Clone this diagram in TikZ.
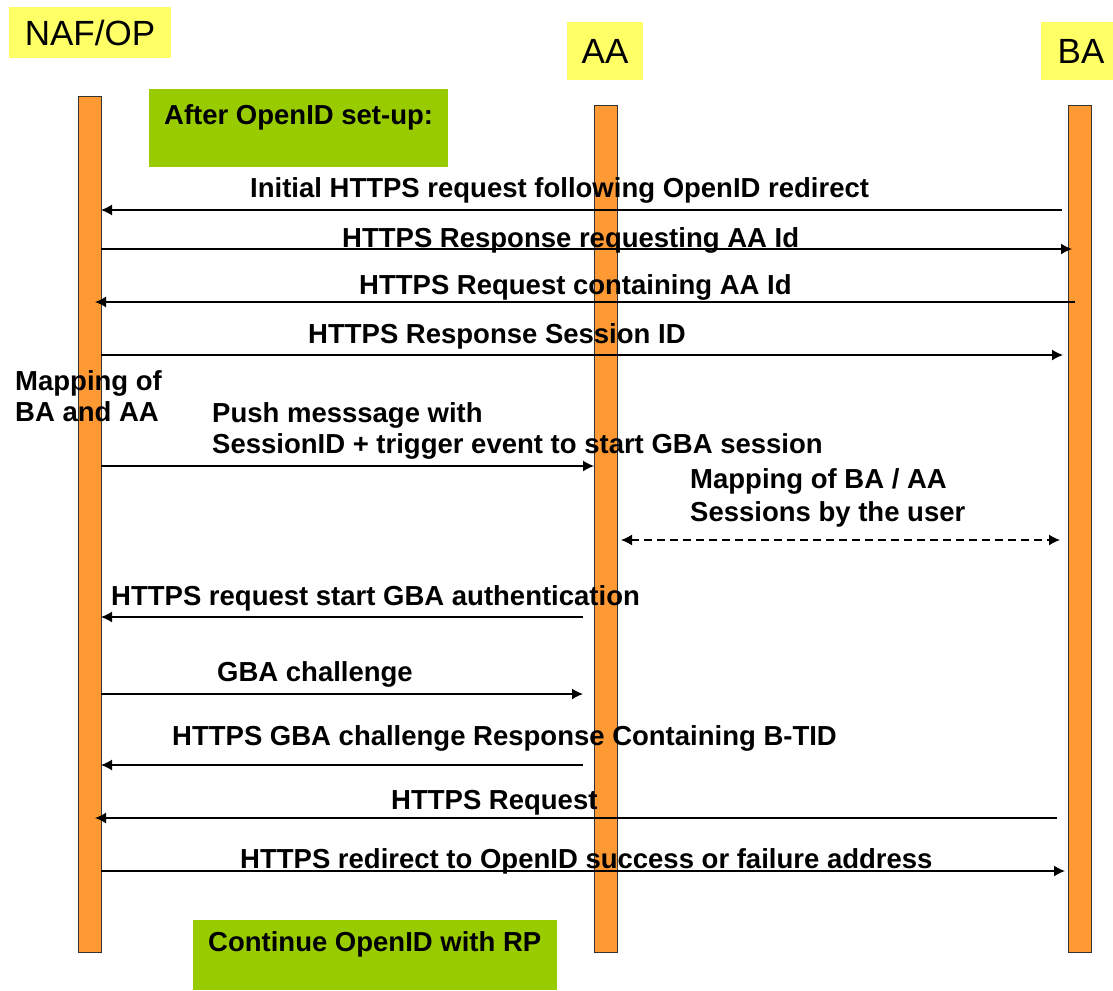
\documentclass[tikz,border=0pt]{standalone}
\usepackage{fontspec}
\setmainfont{Liberation Sans}
\usetikzlibrary{arrows.meta}
\definecolor{lifeorange}{HTML}{FF9933}
\definecolor{headyellow}{HTML}{FFFF66}
\definecolor{notegreen}{HTML}{99CC00}
\tikzset{
  head/.style={fill=headyellow, inner sep=0, font=\fontsize{35}{40}\selectfont},
  life/.style={draw=black!80, line width=1pt, fill=lifeorange, minimum width=23, anchor=north, inner sep=0},
  note/.style={fill=notegreen, anchor=north west, inner sep=0},
  msg/.style={anchor=north west, inner sep=0, align=left, font=\bfseries\fontsize{27.5}{31}\selectfont},
  call/.style={line width=1.4pt, -{Latex[length=11pt,width=11pt]}},
  swap/.style={line width=1.4pt, dash pattern=on 8pt off 5pt, {Latex[length=11pt,width=11pt]}-{Latex[length=11pt,width=11pt]}}
}
\begin{document}
\begin{tikzpicture}[x=1pt, y=-1pt]
      \useasboundingbox (0,0) rectangle (1113,990);
      % participants
      \node[head, minimum width=162, minimum height=51] (nafop) at (90,32.5) {NAF/OP};
      \node[head, minimum width=76, minimum height=58] (aahead) at (605,51) {AA};
      \node[head, minimum width=80, minimum height=58] (bahead) at (1081,51) {BA};
      % lifelines
      \node[life, minimum height=856] (naf) at (89.5,96) {};
      \node[life, minimum height=847] (aa) at (605.5,105) {};
      \node[life, minimum height=847] (ba) at (1079.5,105) {};
      % notes
      \node[note, minimum width=299, minimum height=78] (setup) at (149,89) {};
      \node[msg] (setuptext) at (164,104) {After OpenID set-up:};
      \node[note, minimum width=364, minimum height=70] (rp) at (193,920) {};
      \node[msg] (rptext) at (208,931) {Continue OpenID with RP};
      % message ends
      \coordinate (m1a) at (1062,210);  \coordinate (m1b) at (101,210);
      \coordinate (m2a) at (101,249);   \coordinate (m2b) at (1072,249);
      \coordinate (m3a) at (1075,302);  \coordinate (m3b) at (95,302);
      \coordinate (m4a) at (101,355);   \coordinate (m4b) at (1063,355);
      \coordinate (m5a) at (101,466);   \coordinate (m5b) at (594,466);
      \coordinate (m6a) at (621,540);   \coordinate (m6b) at (1060,540);
      \coordinate (m7a) at (583,617);   \coordinate (m7b) at (101,617);
      \coordinate (m8a) at (101,694);   \coordinate (m8b) at (583,694);
      \coordinate (m9a) at (583,765);   \coordinate (m9b) at (101,765);
      \coordinate (m10a) at (1057,818); \coordinate (m10b) at (95,818);
      \coordinate (m11a) at (101,871);  \coordinate (m11b) at (1065,871);
      % messages
      \begin{scope}[call]
        \draw (m1a) to (m1b);
        \draw (m2a) to (m2b);
        \draw (m3a) to (m3b);
        \draw (m4a) to (m4b);
        \draw (m5a) to (m5b);
        \draw (m7a) to (m7b);
        \draw (m8a) to (m8b);
        \draw (m9a) to (m9b);
        \draw (m10a) to (m10b);
        \draw (m11a) to (m11b);
      \end{scope}
      \draw[swap] (m6a) to (m6b);
      % labels
      \node[msg] (l1) at (250,177) {Initial HTTPS request following OpenID redirect};
      \node[msg] (l2) at (342,227) {HTTPS Response requesting AA Id};
      \node[msg] (l3) at (359,274) {HTTPS Request containing AA Id};
      \node[msg] (l4) at (308,323) {HTTPS Response Session ID};
      \node[msg] (mapnaf) at (15,370) {Mapping of\\BA and AA};
      \node[msg] (l5) at (212,402) {Push messsage with\\SessionID + trigger event to start GBA session};
      \node[msg] (mapuser) at (690,468) {Mapping of BA / AA\\[2pt]Sessions by the user};
      \node[msg] (l7) at (111,585) {HTTPS request start GBA authentication};
      \node[msg] (l8) at (217,661) {GBA challenge};
      \node[msg] (l9) at (172,725) {HTTPS GBA challenge Response Containing B-TID};
      \node[msg] (l10) at (391,790) {HTTPS Request};
      \node[msg] (l11) at (240,848) {HTTPS redirect to OpenID success or failure address};
    \end{tikzpicture}
\end{document}
